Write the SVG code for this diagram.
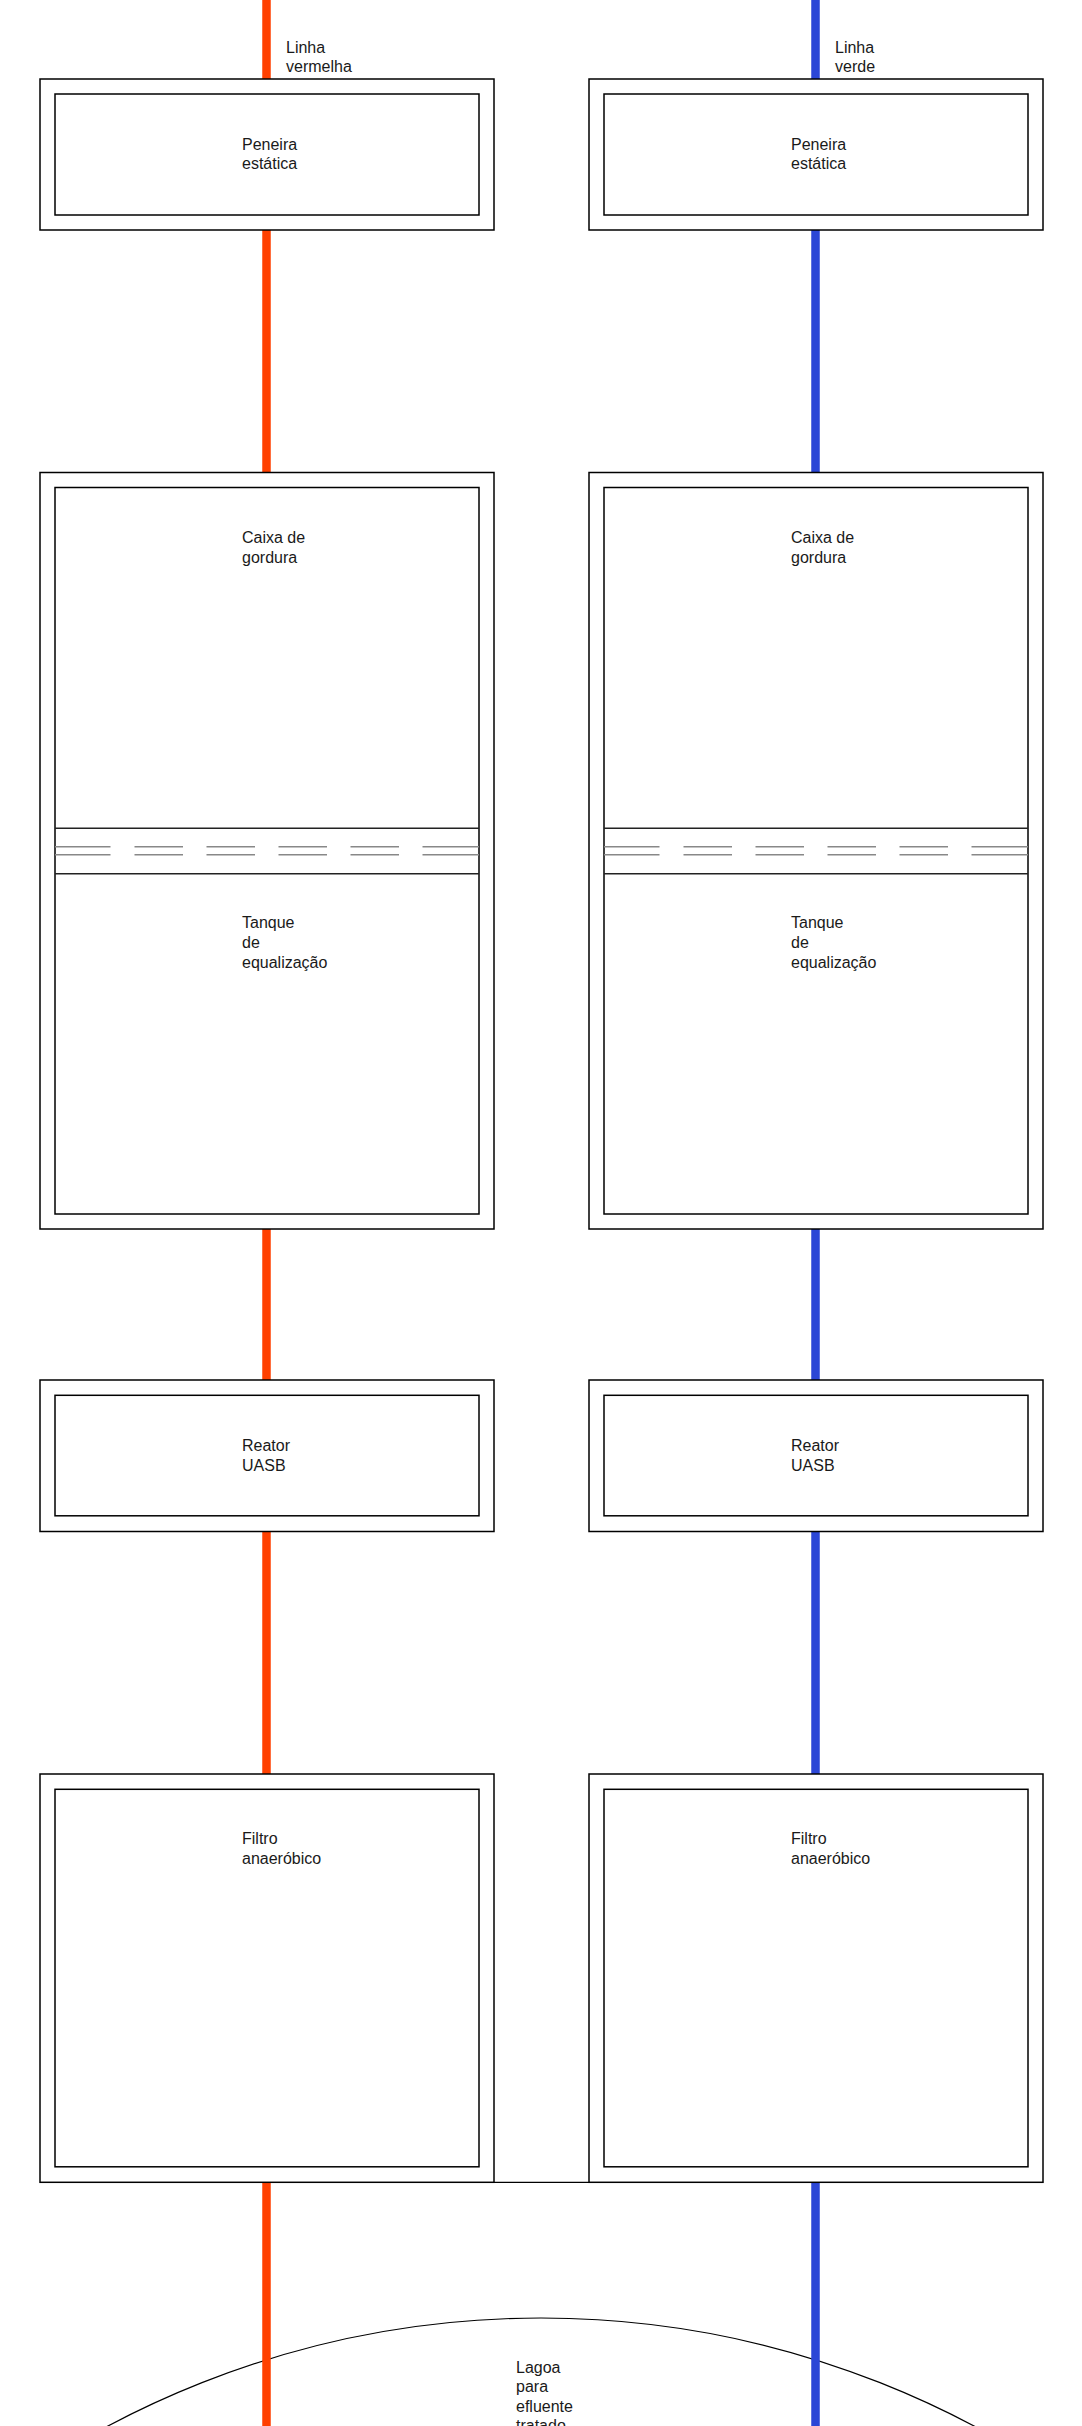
<svg xmlns="http://www.w3.org/2000/svg" width="1082" height="2426" viewBox="0 0 1082 2426">
<style>
.bg{fill:#fff}
.box{fill:#fff;stroke:#000;stroke-width:1.5}
.sep{fill:none;stroke:#222;stroke-width:1.5}
.dash{fill:none;stroke:#888;stroke-width:1.4}
.t{font-family:"Liberation Sans",Arial,sans-serif;font-size:16px;fill:#1a1a1a}
.red{stroke:#ff4000;stroke-width:8.5;fill:none}
.blue{stroke:#2b46d6;stroke-width:8.5;fill:none}
.thin{stroke:#000;stroke-width:1.2;fill:none}
</style>
<rect class="bg" x="0" y="0" width="1082" height="2426"/>

<g id="lagoa">
<circle cx="541" cy="3239" r="921" fill="none" stroke="#000" stroke-width="1.2"/>
<text class="t"><tspan x="516" y="2372.5">Lagoa</tspan><tspan x="516" y="2392">para</tspan><tspan x="516" y="2411.5">efluente</tspan><tspan x="516" y="2431">tratado</tspan></text>
</g>

<g id="connectors">
<path class="red" d="M266.5 0V79M266.5 230V472.5M266.5 1229V1380M266.5 1531.5V1774M266.5 2182.5V2426"/>
<path class="blue" d="M815.5 0V79M815.5 230V472.5M815.5 1229V1380M815.5 1531.5V1774M815.5 2182.5V2426"/>
<path class="thin" d="M494 2182.3H589"/>
</g>

<g id="label-vermelha"><text class="t"><tspan x="286" y="52.5">Linha</tspan><tspan x="286" y="72">vermelha</tspan></text></g>
<g id="label-verde"><text class="t"><tspan x="835" y="52.5">Linha</tspan><tspan x="835" y="72">verde</tspan></text></g>

<g id="peneira-l">
<rect class="box" x="40" y="79" width="454" height="151"/>
<rect class="box" x="55" y="94" width="424" height="121"/>
<text class="t"><tspan x="242" y="149.5">Peneira</tspan><tspan x="242" y="169">estática</tspan></text>
</g>
<g id="peneira-r">
<rect class="box" x="589" y="79" width="454" height="151"/>
<rect class="box" x="604" y="94" width="424" height="121"/>
<text class="t"><tspan x="791" y="149.5">Peneira</tspan><tspan x="791" y="169">estática</tspan></text>
</g>

<g id="caixa-tanque-l">
<rect class="box" x="40" y="472.5" width="454" height="756.5"/>
<rect class="box" x="55" y="487.5" width="424" height="726.5"/>
<path class="sep" d="M55 828.3H479M55 873.7H479"/>
<path class="dash" d="M55 846.7H110.5M134.5 846.7H183M206.5 846.7H255M278.5 846.7H327M350.5 846.7H399M422.5 846.7H479M55 854.7H110.5M134.5 854.7H183M206.5 854.7H255M278.5 854.7H327M350.5 854.7H399M422.5 854.7H479"/>
<text class="t"><tspan x="242" y="543.3">Caixa de</tspan><tspan x="242" y="562.8">gordura</tspan></text>
<text class="t"><tspan x="242" y="928.3">Tanque</tspan><tspan x="242" y="948.3">de</tspan><tspan x="242" y="968.3">equalização</tspan></text>
</g>
<g id="caixa-tanque-r">
<rect class="box" x="589" y="472.5" width="454" height="756.5"/>
<rect class="box" x="604" y="487.5" width="424" height="726.5"/>
<path class="sep" d="M604 828.3H1028M604 873.7H1028"/>
<path class="dash" d="M604 846.7H659.5M683.5 846.7H732M755.5 846.7H804M827.5 846.7H876M899.5 846.7H948M971.5 846.7H1028M604 854.7H659.5M683.5 854.7H732M755.5 854.7H804M827.5 854.7H876M899.5 854.7H948M971.5 854.7H1028"/>
<text class="t"><tspan x="791" y="543.3">Caixa de</tspan><tspan x="791" y="562.8">gordura</tspan></text>
<text class="t"><tspan x="791" y="928.3">Tanque</tspan><tspan x="791" y="948.3">de</tspan><tspan x="791" y="968.3">equalização</tspan></text>
</g>

<g id="reator-l">
<rect class="box" x="40" y="1380" width="454" height="151.5"/>
<rect class="box" x="55" y="1395.3" width="424" height="120.5"/>
<text class="t"><tspan x="242" y="1451">Reator</tspan><tspan x="242" y="1470.7">UASB</tspan></text>
</g>
<g id="reator-r">
<rect class="box" x="589" y="1380" width="454" height="151.5"/>
<rect class="box" x="604" y="1395.3" width="424" height="120.5"/>
<text class="t"><tspan x="791" y="1451">Reator</tspan><tspan x="791" y="1470.7">UASB</tspan></text>
</g>

<g id="filtro-l">
<rect class="box" x="40" y="1774" width="454" height="408.3"/>
<rect class="box" x="55" y="1789.3" width="424" height="377.5"/>
<text class="t"><tspan x="242" y="1844.3">Filtro</tspan><tspan x="242" y="1864">anaeróbico</tspan></text>
</g>
<g id="filtro-r">
<rect class="box" x="589" y="1774" width="454" height="408.3"/>
<rect class="box" x="604" y="1789.3" width="424" height="377.5"/>
<text class="t"><tspan x="791" y="1844.3">Filtro</tspan><tspan x="791" y="1864">anaeróbico</tspan></text>
</g>
</svg>
